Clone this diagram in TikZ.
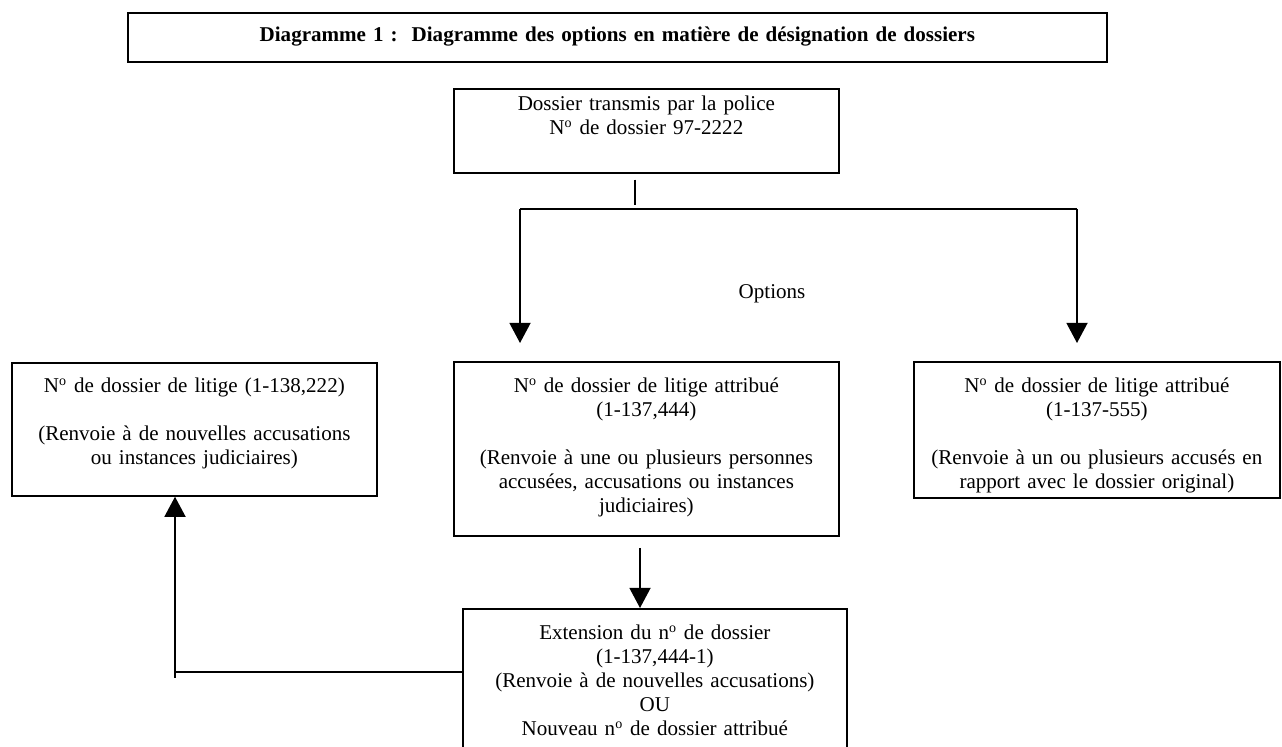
\documentclass[tikz,border=0pt]{standalone}
\usepackage{fontspec}
\setmainfont{Liberation Serif}
\usepackage{tikz}
\usetikzlibrary{arrows.meta, positioning, calc}
\tikzset{
  box/.style={rectangle, draw=black, line width=1pt, anchor=north west,
              inner xsep=0pt, inner ysep=0pt, align=center,
              font=\fontsize{12pt}{13.68pt}\selectfont},
  title/.style={box, font=\fontsize{12pt}{13.68pt}\selectfont\bfseries},
  txt/.style={anchor=base, inner sep=0pt, font=\fontsize{12pt}{13.68pt}\selectfont},
  arrow/.style={-{Triangle[width=12pt, length=11.5pt]}, line width=1pt},
  link/.style={line width=1pt},
}
\newcommand{\numero}{N\textsuperscript{o}}

\begin{document}
\begin{tikzpicture}[x=0.57pt, y=-0.57pt]

  \clip (0,0) rectangle (1282,747);

  \node[title, text width=558pt, text height=16.53pt, text depth=11.4pt]
    (head) at (127,12) {Diagramme 1 :\ \ Diagramme des options en matière de désignation de dossiers};
  \node[box, text width=219.45pt, text height=12.54pt, text depth=35.34pt]
    (police) at (453,88) {Dossier transmis par la police\\ \numero{} de dossier 97-2222};

  \node[box, text width=208.05pt, text height=17.1pt, text depth=58.71pt]
    (lit) at (11,362) {\numero{} de dossier de litige (1-138,222)\\[13.68pt]
      (Renvoie à de nouvelles accusations\\ ou instances judiciaires)};
  \node[box, text width=219.45pt, text height=17.67pt, text depth=81.51pt]
    (mid) at (453,361) {\numero{} de dossier de litige attribué\\ (1-137,444)\\[13.68pt]
      (Renvoie à une ou plusieurs personnes\\ accusées, accusations ou instances\\ judiciaires)};
  \node[box, text width=208.62pt, text height=17.67pt, text depth=59.85pt]
    (orig) at (913,361) {\numero{} de dossier de litige attribué\\ (1-137-555)\\[13.68pt]
      (Renvoie à un ou plusieurs accusés en\\ rapport avec le dossier original)};
  \node[box, text width=218.88pt, text height=17.67pt, text depth=68.97pt]
    (ext) at (462,608) {Extension du n\textsuperscript{o} de dossier\\ (1-137,444-1)\\
      (Renvoie à de nouvelles accusations)\\ OU\\ Nouveau n\textsuperscript{o} de dossier attribué};

  \node[txt] (opt) at (772,299) {Options};

  % fork under the police file
  \coordinate (fork)  at (635,209);
  \coordinate (forkL) at (520,209);
  \coordinate (forkR) at (1077,209);
  \coordinate (down)  at (640,548);
  \coordinate (back)  at (175,672);

  \draw[link] (police.south -| fork) ++(0,6) -- ++(0,25);
  \draw[link] (forkL) -- (forkR);
  \draw[arrow, shorten >=10.26pt] (forkL) -- (forkL |- mid.north);
  \draw[arrow, shorten >=10.26pt] (forkR) -- (forkR |- orig.north);
  \draw[arrow] (down) -- (down |- ext.north);
  \draw[arrow] (ext.west |- back) -- (back) ++(0,6) -- (back |- lit.south);

\end{tikzpicture}
\end{document}
